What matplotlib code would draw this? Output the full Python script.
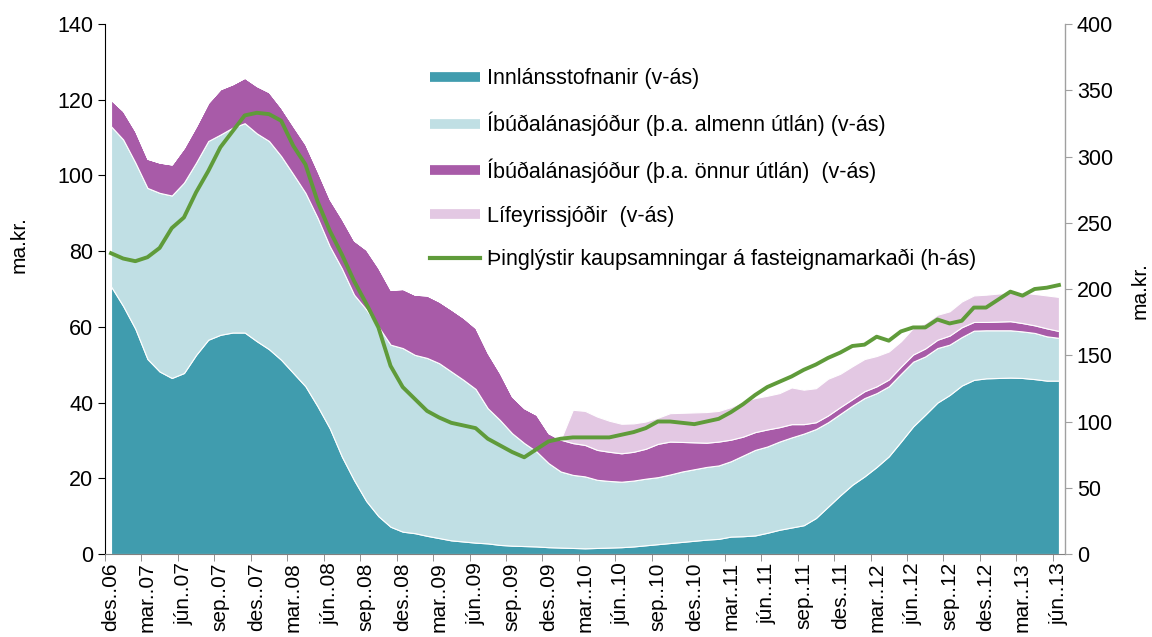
import numpy as np
import matplotlib
matplotlib.use("Agg")
import matplotlib.pyplot as plt
from matplotlib.lines import Line2D

plt.rcParams['font.family'] = ['Liberation Sans', 'DejaVu Sans']

# ----------------------
# Data (monthly, des. 2006 - jún. 2013), ma.kr.
# ----------------------
innlans = [70.7, 65.5, 59.5, 51.5, 48.2, 46.5, 47.8, 52.6, 56.6, 57.9,
           58.5, 58.5, 56.2, 54.1, 51.3, 47.8, 44.3, 39.0, 33.2, 25.7,
           19.5, 14.0, 10.0, 7.2, 5.9, 5.5, 4.8, 4.2, 3.6, 3.3,
           3.0, 2.8, 2.4, 2.2, 2.1, 2.0, 1.8, 1.7, 1.6, 1.5,
           1.6, 1.7, 1.8, 2.0, 2.3, 2.6, 2.9, 3.2, 3.5, 3.8,
           4.0, 4.6, 4.7, 4.9, 5.6, 6.4, 7.0, 7.6, 9.5, 12.5,
           15.5, 18.3, 20.5, 23.0, 25.8, 29.7, 33.7, 36.8, 40.0, 42.0,
           44.5, 46.0, 46.4, 46.5, 46.6, 46.5, 46.2, 45.8, 45.8]

ils_almenn = [42.3, 44.0, 43.9, 45.2, 47.2, 48.2, 50.3, 50.8, 52.5, 52.9,
              54.1, 55.3, 54.9, 55.0, 53.8, 52.5, 51.1, 49.8, 48.1, 49.7,
              49.0, 50.6, 50.1, 48.1, 48.5, 47.1, 47.0, 46.2, 44.6, 42.7,
              40.6, 35.7, 33.0, 29.7, 27.2, 25.1, 22.2, 20.1, 19.3, 19.0,
              18.0, 17.6, 17.3, 17.4, 17.6, 17.7, 18.1, 18.6, 18.9, 19.2,
              19.4, 19.9, 21.3, 22.6, 22.8, 23.3, 23.8, 24.2, 23.5, 22.3,
              21.5, 20.9, 20.7, 19.5, 18.5, 17.9, 17.1, 15.4, 14.4, 13.3,
              12.8, 13.0, 12.7, 12.6, 12.5, 12.3, 12.2, 11.7, 11.3]

ils_onnur = [7.0, 7.5, 8.3, 7.7, 8.0, 8.2, 9.2, 9.6, 10.1, 12.0,
             11.5, 12.0, 12.5, 12.9, 12.8, 12.7, 12.8, 12.3, 12.4, 13.1,
             14.3, 15.8, 15.5, 14.5, 15.6, 15.9, 16.5, 16.3, 16.4, 16.4,
             16.1, 14.6, 12.4, 9.7, 9.2, 9.7, 7.9, 8.4, 8.4, 8.3,
             7.9, 7.7, 7.5, 7.6, 7.9, 8.8, 8.7, 7.8, 7.1, 6.4,
             6.3, 5.7, 5.0, 4.7, 4.5, 3.8, 3.5, 2.5, 1.8, 1.8,
             1.8, 1.7, 1.8, 1.8, 1.8, 1.9, 1.9, 2.1, 2.2, 2.4,
             2.6, 2.3, 2.2, 2.3, 2.4, 2.2, 2.0, 2.1, 1.8]

lifeyris = [0.0] * 38 + [8.8, 9.0,
            8.8, 8.2, 7.8, 7.5, 7.2, 6.9, 7.5, 7.7, 7.9, 8.1,
            8.1, 8.6, 9.3, 9.0, 8.9, 9.0, 9.7, 9.1, 9.0, 9.7,
            8.8, 8.7, 8.5, 8.0, 7.4, 6.7, 7.0, 6.7, 6.6, 6.4,
            6.8, 7.0, 7.2, 7.4, 7.5, 8.0, 8.3, 8.7, 9.0]

kaupsamningar = [227, 223, 221, 224, 231, 246, 254, 273, 289, 307,
                 319, 331, 333, 332, 327, 308, 294, 266, 244, 226,
                 206, 189, 171, 142, 126, 117, 108, 103, 99, 97,
                 95, 87, 82, 77, 73, 79, 85, 87, 88, 88,
                 88, 88, 90, 92, 95, 100, 100, 99, 98, 100,
                 102, 107, 113, 120, 126, 130, 134, 139, 143, 148,
                 152, 157, 158, 164, 161, 168, 171, 171, 177, 174,
                 176, 186, 186, 192, 198, 195, 200, 201, 203]

tick_labels = ["des..06", "mar..07", "jún..07", "sep..07", "des..07",
               "mar..08", "jún..08", "sep..08", "des..08", "mar..09",
               "jún..09", "sep..09", "des..09", "mar..10", "jún..10",
               "sep..10", "des..10", "mar..11", "jún..11", "sep..11",
               "des..11", "mar..12", "jún..12", "sep..12", "des..12",
               "mar..13", "jún..13"]

names = ["Innlánsstofnanir (v-ás)",
         "Íbúðalánasjóður (þ.a. almenn útlán) (v-ás)",
         "Íbúðalánasjóður (þ.a. önnur útlán)  (v-ás)",
         "Lífeyrissjóðir  (v-ás)",
         "Þinglýstir kaupsamningar á fasteignamarkaði (h-ás)"]

colors = ["#409cae", "#c0dfe4", "#a85ba8", "#e3c8e3"]
line_color = "#5f9b3a"

# ----------------------
# Plot
# ----------------------
x = np.arange(len(innlans))

fig = plt.figure(figsize=(11.52, 6.37), dpi=100)
ax = fig.add_axes([0.0911, 0.1303, 0.8334, 0.832])

ax.stackplot(x, innlans, ils_almenn, ils_onnur, lifeyris,
             colors=colors, edgecolor="white", linewidth=0.8)

ax2 = ax.twinx()
ax2.plot(x, kaupsamningar, color=line_color, linewidth=2.8)

ax.set_xlim(-0.5, len(x) - 0.5)
ax.set_ylim(0, 140)
ax.set_yticks(np.arange(0, 141, 20))
ax2.set_ylim(0, 400)
ax2.set_yticks(np.arange(0, 401, 50))

# category labels under every third month, tick marks between categories
ax.set_xticks(x[::3])
ax.set_xticklabels(tick_labels, rotation=90, fontsize=15)
ax.set_xticks(np.arange(-0.5, len(x), 3), minor=True)
ax.tick_params(axis="x", which="major", length=0, pad=6)
ax.tick_params(axis="x", which="minor", length=5, color="#808080", direction="out")
ax.tick_params(axis="y", labelsize=15.5, length=5, direction="out")
ax2.tick_params(axis="y", labelsize=15.5, length=5, direction="out", color="#a0a0a0")

for a in (ax, ax2):
    a.spines["top"].set_visible(False)
ax.spines["bottom"].set_color("#808080")
ax2.spines["bottom"].set_visible(False)
ax2.spines["left"].set_visible(False)
ax2.spines["right"].set_color("#a0a0a0")

ax.set_ylabel("ma.kr.", fontsize=15)
ax.yaxis.set_label_coords(-0.08, 0.583)
ax2.set_ylabel("ma.kr.", fontsize=15, rotation=90)
ax2.yaxis.set_label_coords(1.068, 0.498)

handles = [Line2D([], [], color=c, linewidth=7, solid_capstyle="butt") for c in colors]
handles.append(Line2D([], [], color=line_color, linewidth=3))
fig.legend(handles, names, loc="upper left", bbox_to_anchor=(0.373, 0.893),
           frameon=False, fontsize=15.5, handlelength=2.33, handletextpad=0.33,
           labelspacing=1.04, borderpad=0, borderaxespad=0)

fig.savefig("out.png", dpi=100)
